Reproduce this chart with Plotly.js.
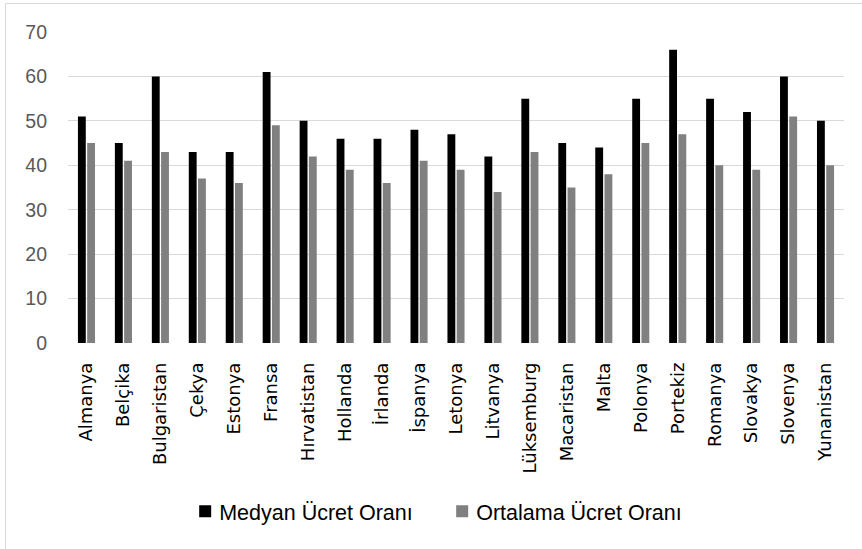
<!DOCTYPE html>
<html>
<head>
<meta charset="utf-8">
<script src="https://cdn.plot.ly/plotly-3.0.1.min.js"></script>
<style>
  html, body { margin: 0; padding: 0; background: #ffffff; }
  #wrap { position: relative; width: 862px; height: 549px; }
  #chart { width: 862px; height: 549px; }
  #frame { position: absolute; left: 5px; top: 3px; width: 860px; height: 560px; border: 1px solid #d9d9d9; pointer-events: none; box-sizing: border-box; }
  .legend .legendtext { transform: translateX(-6px); }
</style>
</head>
<body>
<div id="wrap">
  <div id="chart"></div>
  <div id="frame"></div>
</div>
<script>
const categories = ["Almanya", "Belçika", "Bulgaristan", "Çekya", "Estonya", "Fransa", "Hırvatistan", "Hollanda", "İrlanda", "İspanya", "Letonya", "Litvanya", "Lüksemburg", "Macaristan", "Malta", "Polonya", "Portekiz", "Romanya", "Slovakya", "Slovenya", "Yunanistan"];
const medyan = [51, 45, 60, 43, 43, 61, 50, 46, 46, 48, 47, 42, 55, 45, 44, 55, 66, 55, 52, 60, 50];
const ortalama = [45, 41, 43, 37, 36, 49, 42, 39, 36, 41, 39, 34, 43, 35, 38, 45, 47, 40, 39, 51, 40];
const seriesNames = ["Medyan Ücret Oranı", "Ortalama Ücret Oranı"];
const yTicks = [0, 10, 20, 30, 40, 50, 60, 70];

const traces = [
  { type: "bar", name: seriesNames[0], x: categories, y: medyan, marker: { color: "#000000" } },
  { type: "bar", name: seriesNames[1], x: categories, y: ortalama, marker: { color: "#808080" } }
];

const layout = {
  width: 862, height: 549,
  margin: { l: 68, r: 18, t: 32, b: 206 },
  paper_bgcolor: "#ffffff", plot_bgcolor: "#ffffff",
  barmode: "group", bargap: 0.5, bargroupgap: 0.15,
  font: { family: "Liberation Sans, Arial, sans-serif", color: "#595959" },
  xaxis: {
    type: "category", tickangle: -90, ticks: "", showgrid: false, showline: false, zeroline: false,
    ticklabelstandoff: 15,
    tickfont: { family: "DejaVu Sans, sans-serif", size: 18, color: "#000000" }
  },
  yaxis: {
    range: [0, 70], tickvals: yTicks, ticks: "", showline: false, zeroline: false,
    gridcolor: "#d9d9d9", gridwidth: 1, ticklabelstandoff: 20,
    tickfont: { family: "Liberation Sans, Arial, sans-serif", size: 19.5, color: "#595959" }
  },
  showlegend: true,
  legend: {
    orientation: "h", x: 0.151, xanchor: "left", y: -0.541, yanchor: "middle",
    font: { family: "Liberation Sans, Arial, sans-serif", size: 21.5, color: "#000000" },
    itemwidth: 30, traceorder: "normal", entrywidth: 212, entrywidthmode: "pixels"
  }
};

Plotly.newPlot("chart", traces, layout, { displayModeBar: false, staticPlot: true });
</script>
</body>
</html>
